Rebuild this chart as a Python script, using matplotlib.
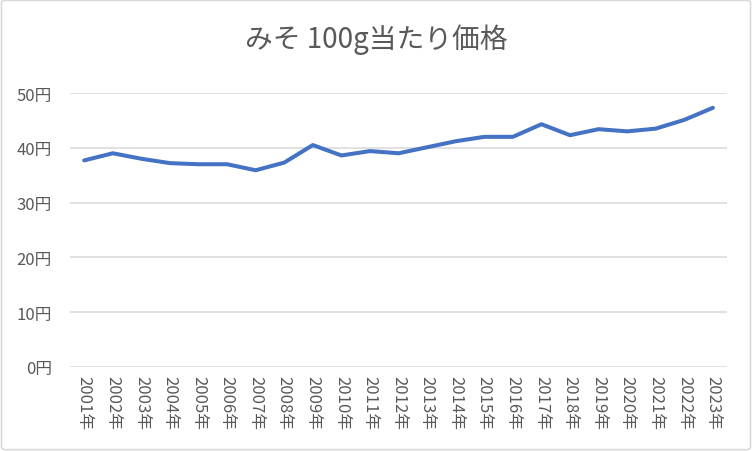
import matplotlib.pyplot as plt
from matplotlib.patches import FancyBboxPatch

plt.rcParams['font.family'] = ['Noto Sans CJK JP', 'DejaVu Sans']

# データ
years = [f'{y}年' for y in range(2001, 2024)]
price = [37.7, 39.0, 38.0, 37.2, 37.0, 37.0, 35.9, 37.3, 40.5, 38.6, 39.4, 39.0,
         40.1, 41.2, 42.0, 42.0, 44.3, 42.3, 43.4, 43.0, 43.5, 45.1, 47.3]
yticks = [0, 10, 20, 30, 40, 50]
ylabels = [f'{v}円' for v in yticks]

fig = plt.figure(figsize=(7.52, 4.52), dpi=100)
ax = fig.add_axes([0.093, 0.186, 0.874, 0.606])

# 枠線
fig.patches.append(FancyBboxPatch((0.002, 0.003), 0.996, 0.994,
                                  boxstyle='round,pad=0,rounding_size=0.006',
                                  transform=fig.transFigure, fill=False,
                                  edgecolor='#d9d9d9', linewidth=1.2))

x = list(range(len(years)))
ax.plot(x, price, color='#4472C4', linewidth=2.9, solid_capstyle='round', zorder=3)

ax.set_xlim(-0.5, len(years) - 0.5)
ax.set_ylim(0, 50)
ax.set_yticks(yticks)
ax.set_yticklabels(ylabels)
ax.set_xticks(x)
ax.set_xticklabels(years, rotation=270)
ax.grid(axis='y', color='#d9d9d9', linewidth=1.1)
ax.set_axisbelow(True)
for s in ax.spines.values():
    s.set_visible(False)
ax.tick_params(length=0, colors='#595959', labelsize=12)
ax.tick_params(axis='x', pad=6)
ax.tick_params(axis='y', pad=13)

fig.text(0.5, 0.912, 'みそ 100g当たり価格', ha='center', va='center',
         fontsize=20, color='#595959')

fig.savefig('out.png', dpi=100)
